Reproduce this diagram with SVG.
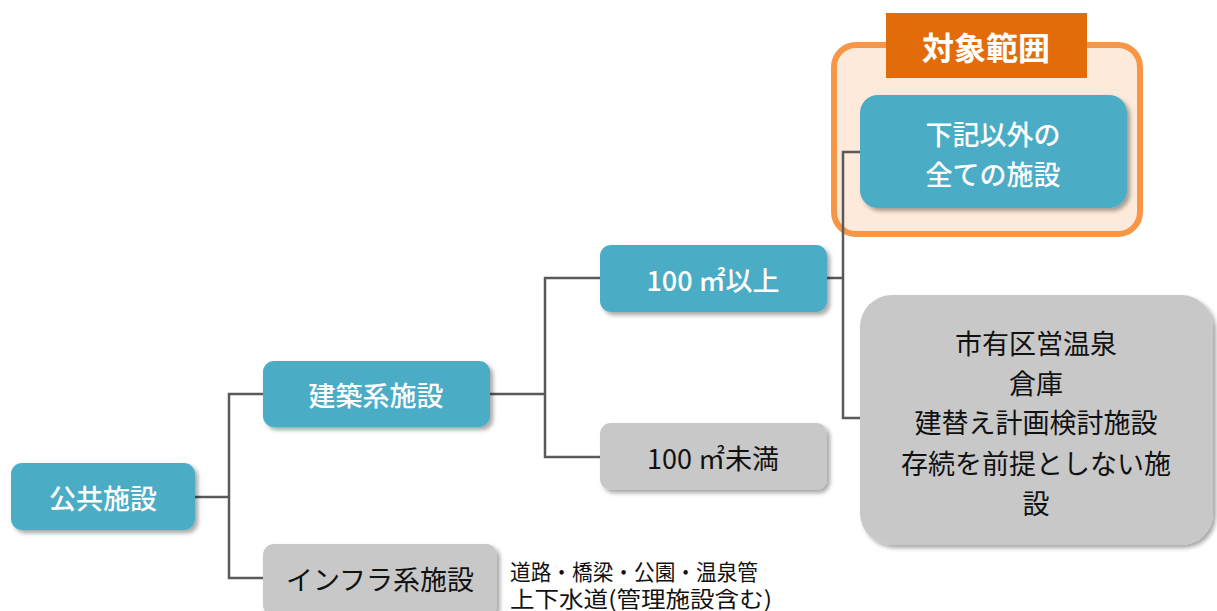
<svg xmlns="http://www.w3.org/2000/svg" width="1217" height="611" viewBox="0 0 1217 611">
<defs>
<filter id="sh" x="-10%" y="-10%" width="130%" height="140%">
<feDropShadow dx="3" dy="3" stdDeviation="2" flood-color="#000" flood-opacity="0.35"/>
</filter>
</defs>
<style>
.t{fill:#4BACC6}
.g{fill:#C8C8C8}
text{font-family:"Noto Sans CJK JP","Noto Sans",sans-serif;text-anchor:middle;dominant-baseline:central}
.w{fill:#fff;font-size:27px;font-weight:500}
.k{fill:#111;font-size:27px}
.c{fill:none;stroke:#595959;stroke-width:2.5}
.n{fill:#111;font-size:22px;text-anchor:start}
</style>
<rect width="1217" height="611" fill="#fff"/>
<g id="scope">
<rect x="834" y="45" width="306" height="189" rx="22" fill="#FDEADA" stroke="#F79646" stroke-width="6"/>
<rect x="886" y="13" width="201" height="65" fill="#E36C0A"/>
<text x="986" y="46" fill="#fff" font-size="32" font-weight="700">対象範囲</text>
</g>
<g id="connectors">
<polyline class="c" points="195,497 229,497"/>
<polyline class="c" points="263,394 229,394 229,578 263,578"/>
<polyline class="c" points="490,394 545,394"/>
<polyline class="c" points="600,278 545,278 545,457 600,457"/>
<polyline class="c" points="827,278 843,278"/>
<polyline class="c" points="860,152 843,152 843,418 860,418"/>
</g>
<g id="n1"><rect class="t" x="11" y="463" width="184" height="67" rx="11" filter="url(#sh)"/><text class="w" x="103" y="497">公共施設</text></g>
<g id="n2"><rect class="t" x="263" y="361" width="227" height="66" rx="11" filter="url(#sh)"/><text class="w" x="376" y="394">建築系施設</text></g>
<g id="n3"><rect class="g" x="263" y="544" width="234" height="72" rx="11" filter="url(#sh)"/><text class="k" x="380" y="578">インフラ系施設</text></g>
<g id="n3note">
<text class="n" x="510" y="570" textLength="248" lengthAdjust="spacingAndGlyphs">道路・橋梁・公園・温泉管</text>
<text class="n" x="510" y="597" textLength="262" lengthAdjust="spacingAndGlyphs">上下水道(管理施設含む)</text>
</g>
<g id="n4"><rect class="t" x="600" y="245" width="227" height="67" rx="11" filter="url(#sh)"/><text class="w" x="713" y="279" font-size="29" font-weight="400">100 ㎡以上</text></g>
<g id="n5"><rect class="g" x="600" y="423" width="227" height="67" rx="11" filter="url(#sh)"/><text class="k" x="713" y="457" font-size="29">100 ㎡未満</text></g>
<g id="n6"><rect class="t" x="860" y="95" width="267" height="113" rx="18" filter="url(#sh)"/><text class="w" x="993" y="133">下記以外の</text><text class="w" x="993" y="173">全ての施設</text></g>
<g id="n7"><rect class="g" x="860" y="295" width="353" height="250" rx="32" filter="url(#sh)"/>
<text class="k" x="1036" y="342">市有区営温泉</text>
<text class="k" x="1036" y="382">倉庫</text>
<text class="k" x="1036" y="421">建替え計画検討施設</text>
<text class="k" x="1036" y="462">存続を前提としない施</text>
<text class="k" x="1036" y="502">設</text>
</g>
</svg>
